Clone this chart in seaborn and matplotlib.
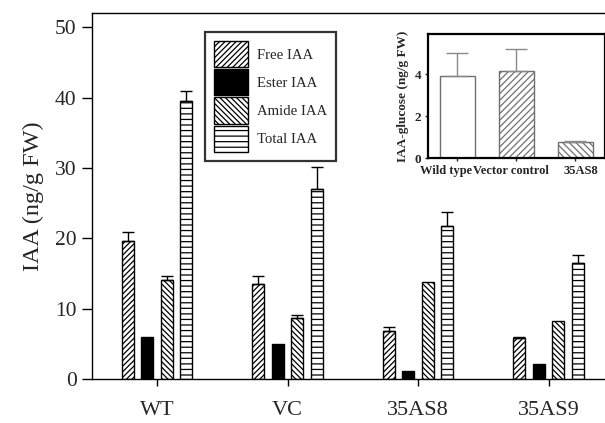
import matplotlib
matplotlib.use("Agg")
import matplotlib.pyplot as plt
import matplotlib.transforms as mtransforms
import numpy as np
import pandas as pd
import seaborn as sns

LINES = ["WT", "VC", "35AS8", "35AS9"]
FORMS = ["Free IAA", "Ester IAA", "Amide IAA", "Total IAA"]
FREE_IAA = [19.6, 13.5, 6.8, 5.8]
ESTER_IAA = [6.0, 5.0, 1.2, 2.1]
AMIDE_IAA = [14.0, 8.6, 13.75, 8.3]
TOTAL_IAA = [39.5, 27.0, 21.7, 16.45]
FREE_ERR = [1.3, 1.1, 0.55, 0.2]
ESTER_ERR = [0.0, 0.0, 0.0, 0.0]
AMIDE_ERR = [0.65, 0.5, 0.0, 0.0]
TOTAL_ERR = [1.5, 3.2, 2.1, 1.15]

GLUCOSE_LINES = ["Wild type", "Vector control", "35AS8"]
GLUCOSE_IAA = [3.89, 4.14, 0.79]
GLUCOSE_ERR = [1.1, 1.05, 0.03]

sns.set_style("ticks")
plt.rcParams["font.family"] = ["Liberation Serif", "DejaVu Serif"]
plt.rcParams["hatch.linewidth"] = 0.9

values = {"Free IAA": FREE_IAA, "Ester IAA": ESTER_IAA,
          "Amide IAA": AMIDE_IAA, "Total IAA": TOTAL_IAA}
errors = {"Free IAA": FREE_ERR, "Ester IAA": ESTER_ERR,
          "Amide IAA": AMIDE_ERR, "Total IAA": TOTAL_ERR}
df = pd.DataFrame(
    [(line, form, values[form][i]) for form in FORMS for i, line in enumerate(LINES)],
    columns=["line", "form", "iaa"],
)

fig = plt.figure(figsize=(6.05, 4.23), dpi=100)
ax = fig.add_axes([0.1517, 0.104, 0.8628, 0.865])

palette = {"Free IAA": "white", "Ester IAA": "black",
           "Amide IAA": "white", "Total IAA": "white"}
hatches = {"Free IAA": "//////", "Ester IAA": "",
           "Amide IAA": "\\\\\\\\\\\\", "Total IAA": "---"}
sns.barplot(data=df, x="line", y="iaa", hue="form", order=LINES,
            hue_order=FORMS, palette=palette, saturation=1, width=0.6,
            gap=0.39, edgecolor="black", linewidth=1.0, errorbar=None,
            legend=False, ax=ax)

for form, cont in zip(FORMS, ax.containers):
    xs, hs = [], []
    for p in cont.patches:
        p.set_hatch(hatches[form])
        xs.append(p.get_x() + p.get_width() / 2)
        hs.append(p.get_height())
    err = np.array(errors[form])
    mask = err > 0
    if mask.any():
        ax.errorbar(np.array(xs)[mask], np.array(hs)[mask],
                    yerr=[np.zeros(mask.sum()), err[mask]], fmt="none",
                    ecolor="black", elinewidth=1.0, capsize=4.5, capthick=1.0)

ax.set_xlim(-0.5, 3.5)
ax.set_ylim(0, 52)
ax.set_yticks([0, 10, 20, 30, 40, 50])
ax.set_xlabel("")
ax.set_ylabel("IAA (ng/g FW)", fontsize=17.5, labelpad=8)
ax.tick_params(axis="y", labelsize=15.5, direction="out", length=7.5, width=1,
               color="black", pad=3.5)
ax.tick_params(axis="x", labelsize=16, direction="out", length=5, width=1,
               color="black", pad=11)
for s in ax.spines.values():
    s.set_color("black")
    s.set_linewidth(1.0)

leg = ax.legend(handles=ax.containers, labels=FORMS, loc="upper left",
                bbox_to_anchor=(0.217, 0.948), borderaxespad=0, fontsize=10.6,
                frameon=True, fancybox=False, edgecolor="black",
                handlelength=2.3, handleheight=2.36, labelspacing=0.14,
                handletextpad=0.6, borderpad=0.6)
leg.get_frame().set_linewidth(1.6)

# inset: IAA-glucose
ins = fig.add_axes([0.7074, 0.6258, 0.2926, 0.2938])
gdf = pd.DataFrame({"line": GLUCOSE_LINES, "iaa": GLUCOSE_IAA})
sns.barplot(data=gdf, x="line", y="iaa", order=GLUCOSE_LINES, color="white",
            saturation=1, width=0.6, edgecolor="#707070", linewidth=1.0,
            errorbar=None, ax=ins)
ins_hatches = ["", "/////", "\\\\\\\\\\"]
gx = []
for p, h in zip(ins.patches, ins_hatches):
    p.set_hatch(h)
    gx.append(p.get_x() + p.get_width() / 2)
ins.errorbar(gx, GLUCOSE_IAA, yerr=[np.zeros(len(GLUCOSE_ERR)), GLUCOSE_ERR],
             fmt="none", ecolor="#8a8a8a", elinewidth=1.0, capsize=8, capthick=1.0)
ins.set_xlim(-0.5, 2.5)
ins.set_ylim(0, 5.9)
ins.set_yticks([0, 2, 4])
ins.set_xlabel("")
ins.set_ylabel("IAA-glucose (ng/g FW)", fontsize=9.5, fontweight="bold", labelpad=4)
ins.tick_params(axis="y", labelsize=9.5, length=2, width=1, pad=3)
ins.tick_params(axis="x", labelsize=9, length=2, width=1, pad=3)
for lab in ins.get_xticklabels() + ins.get_yticklabels():
    lab.set_fontweight("bold")
# the original tick labels sit a little off their bars
label_shift_px = [-11, -6, 5]
for lab, dx in zip(ins.get_xticklabels(), label_shift_px):
    lab.set_transform(lab.get_transform()
                      + mtransforms.ScaledTranslation(dx / 100, 0, fig.dpi_scale_trans))
for s in ins.spines.values():
    s.set_color("black")
    s.set_linewidth(1.6)

fig.savefig("out.png", dpi=100)
